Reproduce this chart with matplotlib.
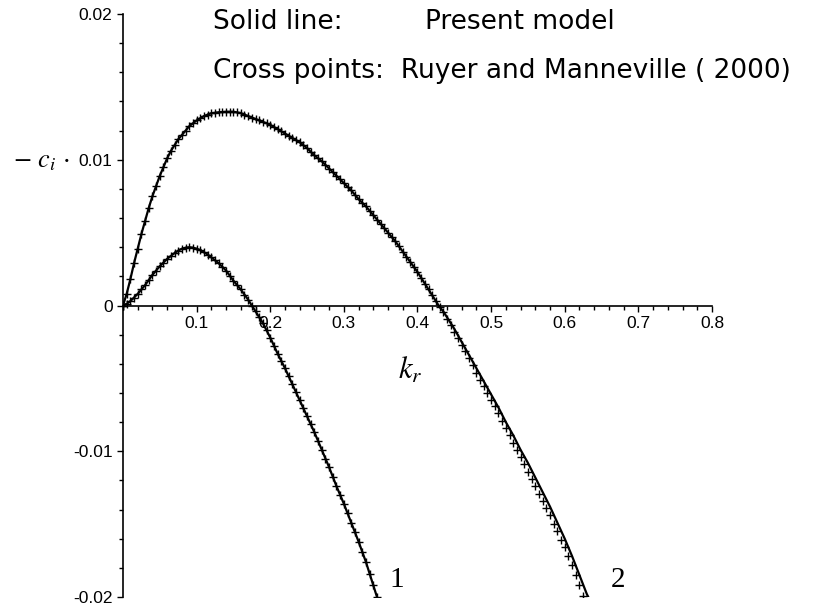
import numpy as np
import matplotlib
matplotlib.use('Agg')
import matplotlib.pyplot as plt
from matplotlib.ticker import MultipleLocator

plt.rcParams['mathtext.fontset'] = 'stix'

# curve 1: present model and Ruyer & Manneville points coincide
kr_1 = [0.0, 0.005, 0.01, 0.015, 0.02, 0.025, 0.03, 0.035, 0.04, 0.045,
        0.05, 0.055, 0.06, 0.065, 0.07, 0.075, 0.08, 0.085, 0.09, 0.095,
        0.10, 0.105, 0.11, 0.115, 0.12, 0.125, 0.13, 0.135, 0.14, 0.145,
        0.15, 0.155, 0.16, 0.165, 0.17, 0.175, 0.18, 0.185, 0.19, 0.195,
        0.20, 0.205, 0.21, 0.215, 0.22, 0.225, 0.23, 0.235, 0.24, 0.245,
        0.25, 0.255, 0.26, 0.265, 0.27, 0.275, 0.28, 0.285, 0.29, 0.295,
        0.30, 0.305, 0.31, 0.315, 0.32, 0.325, 0.33, 0.335, 0.34, 0.345]
ci_1 = [0.0, 0.00012, 0.0003, 0.00055, 0.0008, 0.0011, 0.0014, 0.00175,
        0.0021, 0.0024, 0.0027, 0.00295, 0.0032, 0.0034, 0.0036, 0.00377,
        0.0039, 0.00397, 0.0040, 0.00397, 0.0039, 0.0038, 0.00365, 0.0035,
        0.0033, 0.0031, 0.0029, 0.00265, 0.0024, 0.00205, 0.0017, 0.0014,
        0.0011, 0.00075, 0.0004, 0.0, -0.0004, -0.0008, -0.0012, -0.0017,
        -0.0022, -0.00275, -0.0033, -0.0038, -0.0043, -0.00485, -0.0054,
        -0.00595, -0.0065, -0.00705, -0.0076, -0.00815, -0.0087, -0.0093,
        -0.0099, -0.0105, -0.0111, -0.01175, -0.0124, -0.0130, -0.0136,
        -0.01425, -0.0149, -0.01555, -0.0162, -0.0169, -0.0176, -0.0184,
        -0.0192, -0.0200]

# curve 2: present model (solid line)
kr_2 = [0.0, 0.005, 0.01, 0.015, 0.02, 0.025, 0.03, 0.035, 0.04, 0.045,
        0.05, 0.055, 0.06, 0.065, 0.07, 0.075, 0.08, 0.085, 0.09, 0.095,
        0.10, 0.105, 0.11, 0.115, 0.12, 0.125, 0.13, 0.135, 0.14, 0.145,
        0.15, 0.155, 0.16, 0.165, 0.17, 0.175, 0.18, 0.185, 0.19, 0.195,
        0.20, 0.205, 0.21, 0.215, 0.22, 0.225, 0.23, 0.235, 0.24, 0.245,
        0.25, 0.255, 0.26, 0.265, 0.27, 0.275, 0.28, 0.285, 0.29, 0.295,
        0.30, 0.305, 0.31, 0.315, 0.32, 0.325, 0.33, 0.335, 0.34, 0.345,
        0.35, 0.355, 0.36, 0.365, 0.37, 0.375, 0.38, 0.385, 0.39, 0.395,
        0.40, 0.405, 0.41, 0.415, 0.42, 0.425, 0.43, 0.435, 0.44, 0.445,
        0.45, 0.455, 0.46, 0.465, 0.47, 0.475, 0.48, 0.485, 0.49, 0.495,
        0.50, 0.505, 0.51, 0.515, 0.52, 0.525, 0.53, 0.535, 0.54, 0.545,
        0.55, 0.555, 0.56, 0.565, 0.57, 0.575, 0.58, 0.585, 0.59, 0.595,
        0.60, 0.605, 0.61, 0.615, 0.62, 0.625, 0.63, 0.632]
ci_2 = [0.0, 0.0008, 0.0018, 0.0029, 0.0039, 0.0049, 0.0058, 0.0067, 0.0075,
        0.0082, 0.0089, 0.0095, 0.0101, 0.0106, 0.0110, 0.0114, 0.0117,
        0.0120, 0.0123, 0.0125, 0.0127, 0.01285, 0.0130, 0.0131, 0.0132,
        0.01323, 0.01326, 0.01328, 0.0133, 0.0133, 0.0133, 0.01325, 0.0132,
        0.0131, 0.0130, 0.0129, 0.0128, 0.0127, 0.0126, 0.0125, 0.0124,
        0.01225, 0.0121, 0.01195, 0.0118, 0.01165, 0.0115, 0.01135, 0.0112,
        0.0110, 0.0108, 0.01055, 0.0103, 0.0101, 0.0099, 0.00965, 0.0094,
        0.00915, 0.0089, 0.00865, 0.0084, 0.00815, 0.0079, 0.0076, 0.0073,
        0.00705, 0.0068, 0.0065, 0.0062, 0.0059, 0.0056, 0.0053, 0.0050,
        0.0047, 0.0044, 0.00405, 0.0037, 0.00335, 0.0030, 0.00265, 0.0023,
        0.0019, 0.0015, 0.0011, 0.0007, 0.0003, -0.0001, -0.0004, -0.0008,
        -0.0012, -0.0016, -0.00205, -0.0025, -0.00295, -0.0034, -0.00385,
        -0.0043, -0.00475, -0.0052, -0.00565, -0.0061, -0.00655, -0.0070,
        -0.0075, -0.0080, -0.00845, -0.0089, -0.0094, -0.0099, -0.01035,
        -0.0108, -0.0113, -0.0118, -0.0123, -0.0128, -0.0133, -0.0138,
        -0.01435, -0.0149, -0.01545, -0.0160, -0.0166, -0.0172, -0.01785,
        -0.0185, -0.01915, -0.0198, -0.0200]

# curve 2: Ruyer and Manneville (2000); same as the model up to the neutral
# point, then slightly below it
kr_2_rm = kr_2[:87] + [0.435, 0.44, 0.445, 0.45, 0.455, 0.46, 0.465, 0.47,
                       0.475, 0.48, 0.485, 0.49, 0.495, 0.50, 0.505, 0.51,
                       0.515, 0.52, 0.525, 0.53, 0.535, 0.54, 0.545, 0.55,
                       0.555, 0.56, 0.565, 0.57, 0.575, 0.58, 0.585, 0.59,
                       0.595, 0.60, 0.605, 0.61, 0.615, 0.62, 0.625]
ci_2_rm = ci_2[:87] + [-0.00045, -0.0009, -0.00135, -0.0018, -0.00225,
                       -0.0027, -0.00315, -0.0036, -0.0041, -0.0046, -0.0051,
                       -0.0055, -0.0060, -0.0065, -0.0069, -0.0074, -0.0079,
                       -0.0084, -0.0089, -0.0094, -0.0099, -0.0104, -0.0109,
                       -0.0114, -0.0119, -0.0124, -0.0129, -0.0134, -0.0139,
                       -0.0144, -0.0150, -0.0155, -0.0161, -0.0166, -0.0172,
                       -0.0178, -0.0185, -0.0192, -0.0199]

fig = plt.figure(figsize=(8.15, 6.10), dpi=100)
ax = fig.add_axes([0.1509, 0.0213, 0.7227, 0.9557])

ax.plot(kr_1, ci_1, 'k-', lw=1.6)
ax.plot(kr_1, ci_1, 'k+', ms=6, mew=1)
ax.plot(kr_2, ci_2, 'k-', lw=1.6)
ax.plot(kr_2_rm, ci_2_rm, 'k+', ms=6, mew=1)

ax.set_xlim(0, 0.8)
ax.set_ylim(-0.02, 0.02)

# axes crossing at the origin
ax.spines['top'].set_visible(False)
ax.spines['right'].set_visible(False)
ax.spines['bottom'].set_position(('data', 0))
ax.spines['left'].set_linewidth(1.2)
ax.spines['bottom'].set_linewidth(1.2)

ax.set_xticks([0.1, 0.2, 0.3, 0.4, 0.5, 0.6, 0.7, 0.8])
ax.set_xticklabels(['0.1', '0.2', '0.3', '0.4', '0.5', '0.6', '0.7', '0.8'])
ax.xaxis.set_minor_locator(MultipleLocator(0.02))
ax.set_yticks([-0.02, -0.01, 0, 0.01, 0.02])
ax.set_yticklabels(['-0.02', '-0.01', '0', '0.01', '0.02'])
ax.yaxis.set_minor_locator(MultipleLocator(0.002))
ax.tick_params(which='both', direction='out', width=1, labelsize=12.5)
ax.tick_params(which='major', length=4)
ax.tick_params(which='minor', length=3)
for lab in ax.get_xticklabels() + ax.get_yticklabels():
    lab.set_fontfamily('Liberation Sans')

fig.text(13/815, 1 - 160/610, r'$-\ c_i\,\cdot$', fontsize=19,
         ha='left', va='center')
fig.text(410/815, 1 - 370/610, r'$k_r$', fontsize=22, ha='center', va='center')
fig.text(397/815, 1 - 580/610, '1', fontsize=21, family='Liberation Serif',
         ha='center', va='center')
fig.text(618/815, 1 - 580/610, '2', fontsize=21, family='Liberation Serif',
         ha='center', va='center')

fig.text(213/815, 1 - 22/610, 'Solid line:', fontsize=19, ha='left', va='center')
fig.text(425/815, 1 - 22/610, 'Present model', fontsize=19, ha='left', va='center')
fig.text(213/815, 1 - 71/610, 'Cross points:  Ruyer and Manneville ( 2000)',
         fontsize=19, ha='left', va='center')

fig.savefig('out.png', dpi=100)
